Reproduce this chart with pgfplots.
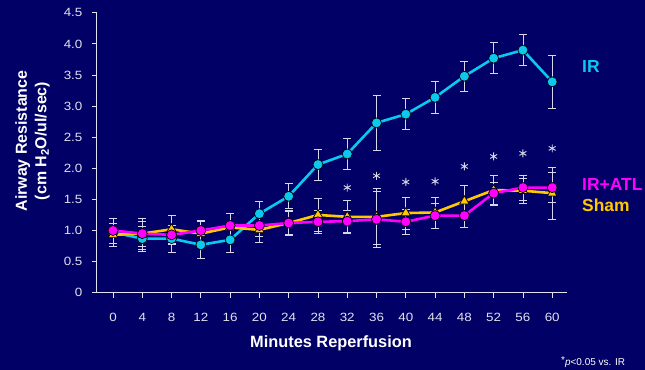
\documentclass[border=0pt]{standalone}
\usepackage{pgfplots}
\pgfplotsset{compat=1.18}
\usepackage{fontspec}
\setmainfont{Liberation Sans}
\newfontfamily\tickfont{Liberation Sans}[FakeStretch=1.12]
\definecolor{bg}{RGB}{0,0,102}
\definecolor{ircol}{RGB}{10,200,238}
\definecolor{atlcol}{RGB}{255,0,255}
\definecolor{shamcol}{RGB}{255,200,0}
\definecolor{axcol}{RGB}{225,225,240}
\definecolor{errcol}{RGB}{215,215,235}

\pgfplotstableread{
x y e
0 0.97 0.22
4 0.87 0.20
8 0.87 0.22
12 0.77 0.22
16 0.85 0.21
20 1.27 0.20
24 1.55 0.20
28 2.06 0.25
32 2.23 0.25
36 2.73 0.44
40 2.87 0.25
44 3.14 0.25
48 3.48 0.24
52 3.77 0.25
56 3.90 0.25
60 3.39 0.43
}\irdata
\pgfplotstableread{
x y e
0 1.00 0.20
4 0.95 0.20
8 0.93 0.15
12 1.00 0.17
16 1.08 0.20
20 1.08 0.18
24 1.12 0.18
28 1.14 0.18
32 1.15 0.18
36 1.18 0.45
40 1.14 0.20
44 1.24 0.20
48 1.24 0.19
52 1.60 0.18
56 1.69 0.20
60 1.69 0.24
}\atldata
\pgfplotstableread{
x y e
0 0.93 0.18
4 0.95 0.25
8 1.02 0.22
12 0.95 0.20
16 1.05 0.22
20 1.01 0.20
24 1.12 0.20
28 1.25 0.27
32 1.22 0.26
36 1.22 0.45
40 1.28 0.26
44 1.29 0.25
48 1.47 0.25
52 1.65 0.24
56 1.64 0.20
60 1.60 0.42
}\shamdata
\pgfplotstableread{
x y
32 1.69
36 1.88
40 1.78
44 1.79
48 2.03
52 2.19
56 2.24
60 2.32
}\stardata

\begin{document}
\begin{tikzpicture}
\fill[bg] (0,0) rectangle (645bp,370bp);
\clip (0,0) rectangle (645bp,370bp);
\begin{axis}[
  anchor=origin, at={(113bp,77.3bp)},
  x=7.32bp, y=62.2bp,
  xmin=-2.2, xmax=62, ymin=0, ymax=4.5,
  axis x line=bottom, axis y line=left,
  axis line style={-, axcol, line width=1.2bp},
  tick align=outside,
  major tick length=5bp,
  tick style={axcol, line width=0.8bp},
  xtick={0,4,...,60},
  ytick={0,0.5,1,1.5,2,2.5,3,3.5,4,4.5},
  yticklabels={0,0.5,1.0,1.5,2.0,2.5,3.0,3.5,4.0,4.5},
  /pgf/number format/assume math mode=true,
  ticklabel style={font=\tickfont\fontsize{12}{14}\selectfont, text=axcol},
  xticklabel style={yshift=-12bp},
  yticklabel style={xshift=-6bp},
  clip=false,
  error bars/y dir=both, error bars/y explicit,
  error bars/error bar style={errcol, line width=0.8bp},
  error bars/error mark options={rotate=90, errcol, mark size=4bp, line width=0.8bp},
]
% error bars
\addplot[draw=none, mark=none, error bars/.cd, y dir=both, y explicit] table[x=x,y=y,y error=e]{\irdata};
\addplot[draw=none, mark=none, error bars/.cd, y dir=both, y explicit] table[x=x,y=y,y error=e]{\shamdata};
\addplot[draw=none, mark=none, error bars/.cd, y dir=both, y explicit] table[x=x,y=y,y error=e]{\atldata};
% lines
\addplot[ircol, line width=2.6bp, mark=*, mark size=5bp, mark options={fill=ircol, draw=black, line width=0.7bp}, error bars/y dir=none] table[x=x,y=y]{\irdata};
\addplot[shamcol, line width=2.6bp, mark=triangle*, mark size=5.5bp, mark options={fill=shamcol, draw=black, line width=0.7bp}, error bars/y dir=none] table[x=x,y=y]{\shamdata};
\addplot[atlcol, line width=2.6bp, mark=*, mark size=5bp, mark options={fill=atlcol, draw=black, line width=0.7bp}, error bars/y dir=none] table[x=x,y=y]{\atldata};
% significance
\addplot[only marks, mark=asterisk, mark size=4bp, mark options={errcol, line width=0.9bp}, error bars/y dir=none] table[x=x,y=y]{\stardata};
\end{axis}
\node[rotate=90, align=center, font=\bfseries\fontsize{16}{19.5}\selectfont, text=white] at (32.5bp,229bp)
  {Airway Resistance\\(cm H\textsubscript{2}O/ul/sec)};
\node[font=\bfseries\fontsize{16.4}{19}\selectfont, text=white] at (331bp,27bp) {Minutes Reperfusion};
\node[anchor=west, font=\fontsize{10}{12}\selectfont, text=white, inner sep=0] at (561bp,8bp)
  {\raisebox{0.5ex}{*}\textit{p}<0.05 vs. IR};
\node[anchor=west, font=\bfseries\fontsize{17.5}{20}\selectfont, text=ircol, inner sep=0] at (582bp,303bp) {IR};
\node[anchor=west, font=\bfseries\fontsize{17.5}{20}\selectfont, text=atlcol, inner sep=0] at (582bp,185bp) {IR+ATL};
\node[anchor=west, font=\bfseries\fontsize{17.5}{20}\selectfont, text=shamcol, inner sep=0] at (582bp,165bp) {Sham};
\end{tikzpicture}
\end{document}
